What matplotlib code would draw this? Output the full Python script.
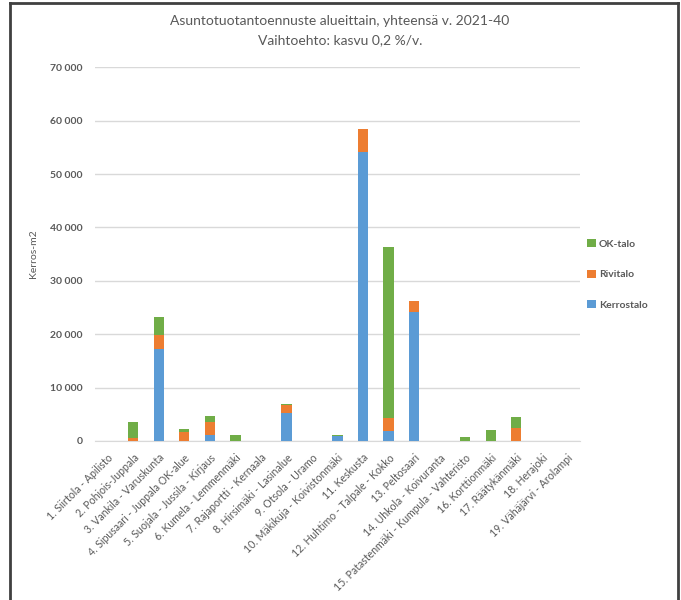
import matplotlib
matplotlib.use("Agg")
import matplotlib.pyplot as plt
from matplotlib.lines import Line2D
from matplotlib.ticker import FuncFormatter

# Alueet ja kerrosalat (kerros-m2) tyypeittäin
categories = [
    "1. Siirtola - Apilisto",
    "2. Pohjois-Juppala",
    "3. Vankila - Varuskunta",
    "4. Sipusaari - Juppala OK-alue",
    "5. Suojala - Jussila - Kirjaus",
    "6. Kumela - Lemmenmäki",
    "7. Rajaportti - Kernaala",
    "8. Hirsimäki - Lasinalue",
    "9. Otsola - Uramo",
    "10. Mäkikuja - Koivistonmäki",
    "11. Keskusta",
    "12. Huhtimo - Talpale - Kokko",
    "13. Peltosaari",
    "14. Uhkola - Koivuranta",
    "15. Patastenmäki - Kumpula - Vahteristo",
    "16. Korttionmäki",
    "17. Räätykänmäki",
    "18. Herajoki",
    "19. Vähäjärvi - Arolampi",
]
kerrostalo = [0, 0, 17250, 0, 1100, 0, 0, 5200, 0, 1000, 54100, 1900, 24200, 0, 0, 0, 0, 0, 0]
rivitalo = [0, 600, 2650, 1750, 2450, 0, 0, 1500, 0, 0, 4400, 2450, 2000, 0, 0, 0, 2350, 0, 0]
ok_talo = [0, 3000, 3400, 550, 1100, 1200, 0, 250, 0, 150, 0, 31900, 0, 0, 700, 2150, 2100, 0, 0]

yticks = [0, 10000, 20000, 30000, 40000, 50000, 60000, 70000]

C_KERROS = "#5B9BD5"
C_RIVI = "#ED7D31"
C_OK = "#70AD47"
TXT = "#595959"

plt.rcParams["font.family"] = ["Lato", "DejaVu Sans"]

W, H = 681, 600
fig = plt.figure(figsize=(W / 100, H / 100), dpi=100)
ax = fig.add_axes([95 / W, 1 - 441 / H, (580 - 95) / W, (441 - 67.3) / H])

x = list(range(len(categories)))
bottom2 = [k + r for k, r in zip(kerrostalo, rivitalo)]
w = 0.4
ax.bar(x, kerrostalo, w, color=C_KERROS, label="Kerrostalo", zorder=3)
ax.bar(x, rivitalo, w, bottom=kerrostalo, color=C_RIVI, label="Rivitalo", zorder=3)
ax.bar(x, ok_talo, w, bottom=bottom2, color=C_OK, label="OK-talo", zorder=3)

ax.set_xlim(-0.5, len(categories) - 0.5)
ax.set_ylim(0, 70000)
ax.set_yticks(yticks)
ax.yaxis.set_major_formatter(FuncFormatter(lambda v, p: f"{int(v):,}".replace(",", " ")))
ax.grid(True, axis="y", color="#D9D9D9", linewidth=1, zorder=0)
for s in ["top", "right", "left"]:
    ax.spines[s].set_visible(False)
ax.spines["bottom"].set_color("#D9D9D9")
ax.tick_params(axis="y", length=0, pad=9, labelsize=7.5, labelcolor=TXT)
ax.tick_params(axis="x", length=0, pad=8, labelsize=7.6, labelcolor=TXT)
for lab in ax.get_yticklabels():
    lab.set_fontweight("bold")

ax.set_xticks(x)
ax.set_xticklabels(categories, rotation=45, ha="right", rotation_mode="anchor")

ax.set_ylabel("Kerros-m2", fontsize=7.5, color=TXT)
ax.yaxis.set_label_coords(-57 / (580 - 95), 0.5)

fig.text(340 / W, 1 - 21 / H, "Asuntotuotantoennuste alueittain, yhteensä v. 2021-40",
         ha="center", va="center", fontsize=10, color=TXT)
fig.text(340 / W, 1 - 40 / H, "Vaihtoehto: kasvu 0,2 %/v.",
         ha="center", va="center", fontsize=10, color=TXT)

handles, labels = ax.get_legend_handles_labels()
leg = fig.legend(handles[::-1], labels[::-1], loc="upper left",
                 bbox_to_anchor=(583 / W, 1 - 235 / H), frameon=False,
                 fontsize=7.5, handlelength=0.8, handleheight=0.8,
                 handletextpad=0.3, labelspacing=2.0, borderaxespad=0)
for t in leg.get_texts():
    t.set_color(TXT)
    t.set_fontweight("bold")

# kehys
for xs, ys in [((10 / W, 10 / W), (0, 1 - 3 / H)),
               ((10 / W, 678 / W), (1 - 3 / H, 1 - 3 / H)),
               ((678 / W, 678 / W), (1 - 3 / H, 0))]:
    fig.add_artist(Line2D(xs, ys, color="#404040", linewidth=2))

fig.savefig("out.png", dpi=100)
